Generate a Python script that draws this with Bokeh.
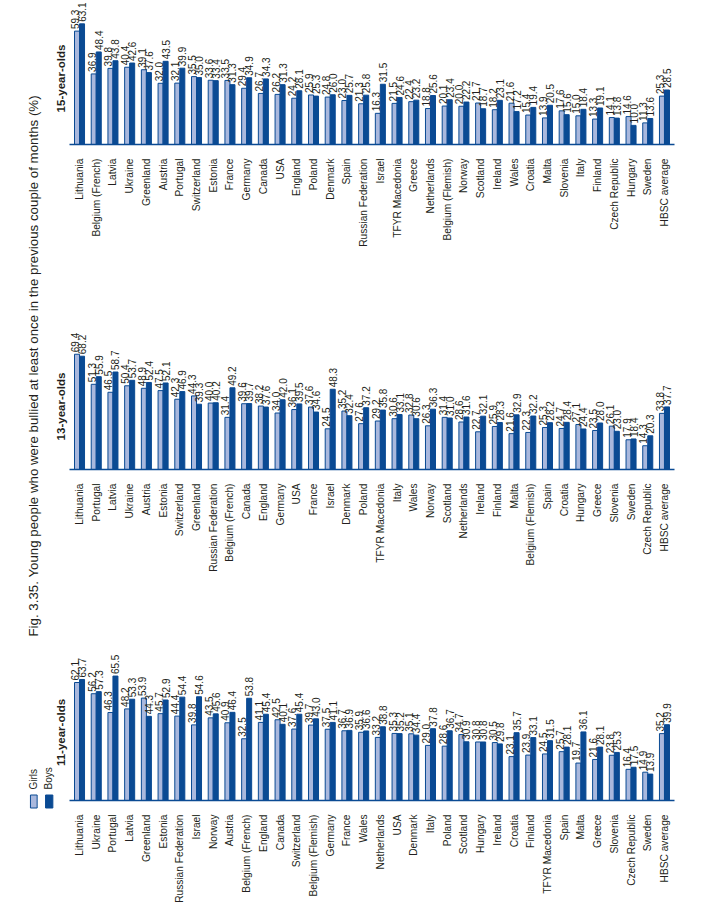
import math
from bokeh.plotting import figure
from bokeh.models import ColumnDataSource, FactorRange, Range1d
from bokeh.transform import dodge
from bokeh.layouts import row, column
from bokeh.core.properties import value
from bokeh.embed import file_html
from bokeh.resources import INLINE

TITLE = "Fig. 3.35. Young people who were bullied at least once in the previous couple of months (%)"
SERIES = ["Girls", "Boys"]
PANELS = ["15-year-olds", "13-year-olds", "11-year-olds"]

# ---------------- 15-year-olds ----------------
countries_15 = ["Lithuania", "Belgium (French)", "Latvia", "Ukraine", "Greenland", "Austria",
                "Portugal", "Switzerland", "Estonia", "France", "Germany", "Canada", "USA",
                "England", "Poland", "Denmark", "Spain", "Russian Federation", "Israel",
                "TFYR Macedonia", "Greece", "Netherlands", "Belgium (Flemish)", "Norway",
                "Scotland", "Ireland", "Wales", "Croatia", "Malta", "Slovenia", "Italy",
                "Finland", "Czech Republic", "Hungary", "Sweden", "HBSC average"]
girls_15 = [59.3, 36.9, 39.8, 40.4, 39.1, 32.0, 32.1, 35.5, 33.6, 33.5, 29.4, 26.7, 26.2,
            24.2, 25.9, 24.8, 23.0, 21.3, 16.3, 21.5, 22.4, 18.8, 20.1, 20.0, 21.7, 18.2,
            21.6, 15.4, 13.9, 17.6, 15.0, 13.3, 14.1, 14.6, 11.3, 25.3]
boys_15 = [63.1, 48.4, 43.8, 42.6, 37.6, 43.5, 39.9, 35.0, 33.4, 31.3, 34.9, 34.3, 31.3,
           28.1, 25.3, 26.0, 25.7, 25.8, 31.5, 24.6, 23.2, 25.6, 23.4, 22.2, 18.7, 23.1,
           17.2, 19.4, 20.5, 15.6, 18.4, 19.1, 13.8, 10.0, 13.6, 28.5]

# ---------------- 13-year-olds ----------------
countries_13 = ["Lithuania", "Portugal", "Latvia", "Ukraine", "Austria", "Estonia",
                "Switzerland", "Greenland", "Russian Federation", "Belgium (French)",
                "Canada", "England", "Germany", "USA", "France", "Israel", "Denmark",
                "Poland", "TFYR Macedonia", "Italy", "Wales", "Norway", "Scotland",
                "Netherlands", "Ireland", "Finland", "Malta", "Belgium (Flemish)", "Spain",
                "Croatia", "Hungary", "Greece", "Slovenia", "Sweden", "Czech Republic",
                "HBSC average"]
girls_13 = [69.4, 51.3, 46.5, 50.4, 48.9, 47.5, 42.3, 44.3, 40.0, 31.4, 39.6, 38.2, 34.0,
            36.1, 37.6, 24.5, 35.2, 27.6, 29.2, 30.6, 32.8, 26.3, 31.4, 28.6, 22.7, 25.9,
            21.6, 22.3, 25.3, 24.7, 27.1, 23.5, 26.1, 17.9, 14.3, 33.8]
boys_13 = [68.2, 55.9, 58.7, 53.7, 52.4, 52.1, 46.9, 39.3, 40.2, 49.2, 39.7, 37.6, 42.0,
           39.5, 34.6, 48.3, 32.4, 37.2, 35.8, 33.1, 30.6, 36.3, 31.0, 31.6, 32.1, 28.3,
           32.9, 32.2, 28.2, 28.4, 24.4, 28.0, 23.0, 18.4, 20.3, 37.7]

# ---------------- 11-year-olds ----------------
countries_11 = ["Lithuania", "Ukraine", "Portugal", "Latvia", "Greenland", "Estonia",
                "Russian Federation", "Israel", "Norway", "Austria", "Belgium (French)",
                "England", "Canada", "Switzerland", "Belgium (Flemish)", "Germany", "France",
                "Wales", "Netherlands", "USA", "Denmark", "Italy", "Poland", "Scotland",
                "Hungary", "Ireland", "Croatia", "Finland", "TFYR Macedonia", "Spain",
                "Malta", "Greece", "Slovenia", "Czech Republic", "Sweden", "HBSC average"]
girls_11 = [62.1, 56.2, 46.3, 48.2, 53.9, 45.7, 44.4, 39.8, 43.5, 40.9, 32.5, 41.1, 42.5,
            37.6, 39.7, 37.5, 36.7, 35.9, 33.2, 35.3, 35.1, 29.0, 28.6, 34.7, 30.8, 30.5,
            23.1, 23.9, 24.5, 25.7, 19.7, 21.6, 23.8, 16.4, 14.9, 35.2]
boys_11 = [63.7, 57.3, 65.5, 53.3, 44.3, 52.9, 54.4, 54.6, 45.6, 46.4, 53.8, 45.4, 40.1,
           45.4, 43.0, 41.1, 36.9, 36.6, 38.8, 35.2, 34.4, 37.8, 36.7, 30.9, 30.8, 29.8,
           35.7, 33.1, 31.5, 28.1, 36.1, 28.1, 25.3, 17.5, 13.9, 39.9]

GIRL_FILL = "#A9B8DD"
BLUE = "#0A4A93"
TEXT = "#231F20"
FONT = "Liberation Sans"

LEFT_W = 69
PANEL_W = 658


def panel(countries, girls, boys, y_end, height, b_top, b_bottom):
    src = ColumnDataSource(dict(
        country=countries, girls=girls, boys=boys,
        girls_txt=[f"{v:.1f}" for v in girls],
        boys_txt=[f"{v:.1f}" for v in boys]))
    xr = FactorRange(factors=countries, range_padding=0.1, range_padding_units="absolute")
    p = figure(x_range=xr, y_range=Range1d(0, y_end), width=PANEL_W, height=height,
               output_backend="svg", toolbar_location=None, y_axis_location=None,
               min_border_left=0, min_border_right=53,
               min_border_top=b_top, min_border_bottom=b_bottom)
    p.outline_line_color = None
    p.grid.visible = False
    p.background_fill_color = "white"
    p.border_fill_color = "white"

    gx = dodge("country", -0.15, range=xr)
    bx = dodge("country", 0.15, range=xr)
    p.vbar(x=gx, top="girls", width=0.3, source=src, fill_color=GIRL_FILL,
           line_color=BLUE, line_width=1)
    p.vbar(x=bx, top="boys", width=0.3, source=src, fill_color=BLUE,
           line_color=BLUE, line_width=1)
    for xx, col, xo in ((gx, "girls", -2), (bx, "boys", 0)):
        p.text(x=xx, y=col, text=col + "_txt", source=src, angle=math.pi / 2,
               text_align="left", text_baseline="middle", x_offset=xo, y_offset=-2,
               text_font=value(FONT), text_font_size="10px", text_color=TEXT)

    ax = p.xaxis[0]
    ax.major_label_orientation = math.pi / 2
    ax.major_tick_line_color = None
    ax.minor_tick_line_color = None
    ax.axis_line_color = BLUE
    ax.axis_line_width = 1.6
    ax.major_label_standoff = 8
    ax.major_label_text_font = FONT
    ax.major_label_text_font_size = "10.2px"
    ax.major_label_text_color = TEXT
    return p


p15 = panel(countries_15, girls_15, boys_15, 75.3, 249, 0, 100)
p13 = panel(countries_13, girls_13, boys_13, 86.1, 325, 77, 99)
p11 = panel(countries_11, girls_11, boys_11, 80.0, 331, 74, 99)

TOTAL_H = 249 + 325 + 331

# Left strip: figure title, panel labels and legend (layout positions in pixels)
left = figure(width=LEFT_W, height=TOTAL_H, x_range=Range1d(0, LEFT_W),
              y_range=Range1d(TOTAL_H, 0), output_backend="svg", toolbar_location=None,
              x_axis_location=None, y_axis_location=None, min_border=0)
left.outline_line_color = None
left.grid.visible = False
left.text(x=[33.3], y=[636], text=[TITLE], angle=math.pi / 2, text_align="left",
          text_baseline="middle", text_font=value(FONT), text_font_size="13.3px",
          text_color=TEXT)
left.text(x=[60, 60, 60], y=[78, 406, 732], text=PANELS, angle=math.pi / 2,
          text_align="center", text_baseline="middle", text_font=value(FONT),
          text_font_size="11.5px", text_font_style="bold", text_color=TEXT)
left.rect(x=[33.3, 48.7], y=[801, 801], width=[6.7, 7.3], height=13,
          fill_color=[GIRL_FILL, BLUE], line_color=BLUE, line_width=1)
left.text(x=[33.2, 48.0], y=[789, 789], text=SERIES, angle=math.pi / 2,
          text_align="left", text_baseline="middle", text_font=value(FONT),
          text_font_size="10px", text_color=TEXT)

layout = row(left, column(p15, p13, p11))
open("out.html", "w").write(file_html(layout, INLINE))
